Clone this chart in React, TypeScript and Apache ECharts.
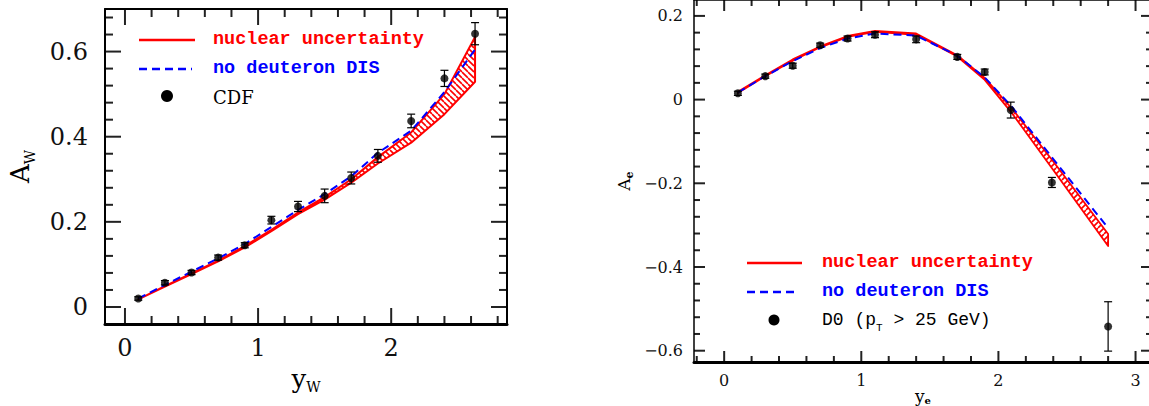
import React, { useEffect, useRef } from 'react';
import * as echarts from 'echarts';

// ---------- Left panel: CDF W charge asymmetry ----------
const cdfY = [0.1, 0.3, 0.5, 0.7, 0.9, 1.1, 1.3, 1.5, 1.7, 1.9, 2.15, 2.4, 2.63];
const cdfA = [0.02, 0.057, 0.081, 0.116, 0.145, 0.204, 0.236, 0.261, 0.303, 0.355, 0.437, 0.537, 0.642];
const cdfErr = [0.004, 0.005, 0.005, 0.006, 0.006, 0.009, 0.012, 0.016, 0.014, 0.015, 0.016, 0.019, 0.026];

const thWx = [0.1, 0.3, 0.5, 0.7, 0.9, 1.1, 1.3, 1.5, 1.7, 1.9, 2.15, 2.4, 2.63];
const nucWlo = [0.018, 0.048, 0.077, 0.107, 0.14, 0.178, 0.218, 0.252, 0.292, 0.337, 0.386, 0.453, 0.529];
const nucWhi = [0.018, 0.049, 0.079, 0.109, 0.143, 0.181, 0.222, 0.258, 0.3, 0.352, 0.41, 0.5, 0.634];
const noDeutW = [0.02, 0.052, 0.083, 0.114, 0.148, 0.188, 0.228, 0.265, 0.307, 0.362, 0.414, 0.505, 0.605];

// ---------- Right panel: D0 electron asymmetry ----------
const d0Y = [0.1, 0.3, 0.5, 0.7, 0.9, 1.1, 1.4, 1.7, 1.9, 2.09, 2.39, 2.8];
const d0A = [0.015, 0.056, 0.081, 0.13, 0.146, 0.155, 0.144, 0.102, 0.066, -0.025, -0.198, -0.542];
const d0Err = [0.005, 0.005, 0.006, 0.005, 0.006, 0.007, 0.008, 0.006, 0.007, 0.019, 0.012, 0.059];

const thEx = [0.1, 0.3, 0.5, 0.7, 0.9, 1.1, 1.4, 1.7, 1.9, 2.1, 2.4, 2.8];
const nucElo = [0.016, 0.056, 0.093, 0.125, 0.15, 0.162, 0.155, 0.103, 0.047, -0.033, -0.168, -0.35];
const nucEhi = [0.019, 0.058, 0.096, 0.127, 0.152, 0.164, 0.158, 0.106, 0.052, -0.022, -0.148, -0.321];
const noDeutE = [0.017, 0.056, 0.092, 0.123, 0.146, 0.158, 0.153, 0.105, 0.053, -0.018, -0.142, -0.307];

// axis tick values / labels
const leftXMajor = [0, 1, 2];
const leftXMinor = [0.2, 0.4, 0.6, 0.8, 1.2, 1.4, 1.6, 1.8, 2.2, 2.4, 2.6, 2.8];
const leftYMajor = [0, 0.2, 0.4, 0.6];
const leftYMinor = [0.04, 0.08, 0.12, 0.16, 0.24, 0.28, 0.32, 0.36, 0.44, 0.48, 0.52, 0.56, 0.64, 0.68];
const rightXMajor = [0, 1, 2, 3];
const rightXMinor = [-0.2, 0.2, 0.4, 0.6, 0.8, 1.2, 1.4, 1.6, 1.8, 2.2, 2.4, 2.6, 2.8];
const rightYMajor = [-0.6, -0.4, -0.2, 0, 0.2];
const rightYMinor = [-0.56, -0.52, -0.48, -0.44, -0.36, -0.32, -0.28, -0.24, -0.16, -0.12, -0.08, -0.04, 0.04, 0.08, 0.12, 0.16];

const RED = '#ff0000';
const BLUE = '#0000ff';
const TICK = '#222222';
const NUM_FONT = 'DejaVu Serif';
const LEG_FONT = 'Liberation Mono';

function hatch(dir: 'back' | 'fwd', size: number, color: string, lw: number) {
  const c = document.createElement('canvas');
  c.width = size;
  c.height = size;
  const ctx = c.getContext('2d')!;
  ctx.strokeStyle = color;
  ctx.lineWidth = lw;
  ctx.beginPath();
  for (let k = -1; k <= 1; k++) {
    if (dir === 'back') {
      ctx.moveTo(k * size, 0);
      ctx.lineTo(k * size + size, size);
    } else {
      ctx.moveTo(k * size, size);
      ctx.lineTo(k * size + size, 0);
    }
  }
  ctx.stroke();
  return { image: c.toDataURL(), repeat: 'repeat', imageWidth: size, imageHeight: size };
}

function fmtNum(v: number) {
  if (Math.abs(v) < 1e-9) return '0';
  const a = Math.abs(v);
  const s = Math.abs(a - Math.round(a)) < 1e-9 ? String(Math.round(a)) : a.toFixed(1);
  return (v < 0 ? '\u2212' : '') + s;
}

function bandSeries(xs: number[], lo: number[], hi: number[], xi: number, yi: number, pattern: any, lw: number) {
  return {
    type: 'custom',
    xAxisIndex: xi,
    yAxisIndex: yi,
    clip: true,
    silent: true,
    z: 2,
    data: xs.map((x, i) => [x, lo[i], hi[i]]),
    encode: { x: 0, y: [1, 2] },
    renderItem: (params: any, api: any) => {
      if (params.dataIndex !== 0) return null;
      const pts: number[][] = [];
      for (let i = 0; i < xs.length; i++) pts.push(api.coord([xs[i], hi[i]]));
      for (let i = xs.length - 1; i >= 0; i--) pts.push(api.coord([xs[i], lo[i]]));
      return {
        type: 'polygon',
        shape: { points: pts },
        style: { fill: pattern, stroke: RED, lineWidth: lw, lineJoin: 'round' },
      };
    },
  };
}

function errSeries(xs: number[], ys: number[], es: number[], xi: number, yi: number, cap: number) {
  return {
    type: 'custom',
    xAxisIndex: xi,
    yAxisIndex: yi,
    silent: true,
    z: 4,
    data: xs.map((x, i) => [x, ys[i], es[i]]),
    encode: { x: 0, y: 1 },
    renderItem: (params: any, api: any) => {
      const x = api.value(0);
      const y = api.value(1);
      const e = api.value(2);
      const t = api.coord([x, y + e]);
      const b = api.coord([x, y - e]);
      const st = { stroke: '#000', lineWidth: 1.2 };
      return {
        type: 'group',
        children: [
          { type: 'line', shape: { x1: t[0], y1: t[1], x2: b[0], y2: b[1] }, style: st },
          { type: 'line', shape: { x1: t[0] - cap, y1: t[1], x2: t[0] + cap, y2: t[1] }, style: st },
          { type: 'line', shape: { x1: b[0] - cap, y1: b[1], x2: b[0] + cap, y2: b[1] }, style: st },
        ],
      };
    },
  };
}

// frame ticks on all four sides: one data item per tick (value placed mid-frame on the other axis)
function tickSeries(
  xi: number,
  yi: number,
  xr: { min: number; max: number },
  yr: { min: number; max: number },
  xMaj: number[],
  xMin: number[],
  yMaj: number[],
  yMin: number[],
  majLen: number,
  minLen: number
) {
  const xm = (xr.min + xr.max) / 2;
  const ym = (yr.min + yr.max) / 2;
  const items: number[][] = [];
  xMaj.forEach((v) => items.push([v, ym, 0, majLen]));
  xMin.forEach((v) => items.push([v, ym, 0, minLen]));
  yMaj.forEach((v) => items.push([xm, v, 1, majLen]));
  yMin.forEach((v) => items.push([xm, v, 1, minLen]));
  return {
    type: 'custom',
    xAxisIndex: xi,
    yAxisIndex: yi,
    clip: false,
    silent: true,
    z: 6,
    data: items,
    encode: { x: 0, y: 1 },
    renderItem: (params: any, api: any) => {
      const v0 = api.value(0);
      const v1 = api.value(1);
      const isY = api.value(2);
      const len = api.value(3);
      const st = { stroke: TICK, lineWidth: 2 };
      if (!isY) {
        const b = api.coord([v0, yr.min]);
        const t = api.coord([v0, yr.max]);
        return {
          type: 'group',
          children: [
            { type: 'line', shape: { x1: b[0], y1: b[1], x2: b[0], y2: b[1] - len }, style: st },
            { type: 'line', shape: { x1: t[0], y1: t[1], x2: t[0], y2: t[1] + len }, style: st },
          ],
        };
      }
      const l = api.coord([xr.min, v1]);
      const r = api.coord([xr.max, v1]);
      return {
        type: 'group',
        children: [
          { type: 'line', shape: { x1: l[0], y1: l[1], x2: l[0] + len, y2: l[1] }, style: st },
          { type: 'line', shape: { x1: r[0], y1: r[1], x2: r[0] - len, y2: r[1] }, style: st },
        ],
      };
    },
  };
}

function lineSeries(xs: number[], ys: number[], xi: number, yi: number, color: string, type: any, width: number) {
  return {
    type: 'line',
    xAxisIndex: xi,
    yAxisIndex: yi,
    data: xs.map((x, i) => [x, ys[i]]),
    showSymbol: false,
    symbol: 'none',
    silent: true,
    z: 3,
    lineStyle: { color, type, width },
  };
}

function dotSeries(xs: number[], ys: number[], xi: number, yi: number, size: number) {
  return {
    type: 'scatter',
    xAxisIndex: xi,
    yAxisIndex: yi,
    data: xs.map((x, i) => [x, ys[i]]),
    symbol: 'circle',
    symbolSize: size,
    silent: true,
    z: 5,
    itemStyle: { color: '#000' },
  };
}

function axisDef(o: {
  gridIndex: number;
  position: string;
  min: number;
  max: number;
  lineWidth: number;
  labels?: number[];
  labelSize?: number;
  labelMargin?: number;
}) {
  return {
    type: 'value',
    gridIndex: o.gridIndex,
    position: o.position,
    min: o.min,
    max: o.max,
    z: 10,
    nameMoveOverlap: false,
    splitLine: { show: false },
    minorTick: { show: false },
    axisTick: { show: false },
    axisLine: { show: true, onZero: false, lineStyle: { color: '#000', width: o.lineWidth } },
    axisLabel: o.labels
      ? {
          show: true,
          margin: o.labelMargin,
          customValues: o.labels,
          formatter: (v: number) => fmtNum(v),
          fontFamily: NUM_FONT,
          fontSize: o.labelSize,
          color: '#111',
        }
      : { show: false },
  };
}

export default function App() {
  const ref = useRef<HTMLDivElement>(null);

  useEffect(() => {
    if (!ref.current) return;
    const chart = echarts.init(ref.current, undefined, { renderer: 'svg' });
    const patL = hatch('back', 6, RED, 1.6);
    const patR = hatch('fwd', 6, RED, 1.6);

    const nameRich = (big: number, small: number, lh: number, subBold: boolean) => ({
      fontFamily: NUM_FONT,
      color: '#000',
      rich: {
        b: { fontFamily: NUM_FONT, fontSize: big, lineHeight: lh, color: '#000' },
        s: {
          fontFamily: NUM_FONT,
          fontSize: small,
          lineHeight: small,
          fontWeight: subBold ? 'bold' : 'normal',
          verticalAlign: 'bottom',
          color: '#000',
        },
      },
    });

    const LX = { min: -0.15, max: 2.87 };
    const LY = { min: -0.04, max: 0.7 };
    const RX = { min: -0.22, max: 3.12 };
    const RY = { min: -0.627, max: 0.238 };

    const option: any = {
      animation: false,
      backgroundColor: '#fff',
      grid: [
        { left: 105, top: 9, width: 402, height: 315, outerBoundsMode: 'none', containLabel: false },
        { left: 694, top: 0, width: 458, height: 362, outerBoundsMode: 'none', containLabel: false },
      ],
      xAxis: [
        {
          ...axisDef({ gridIndex: 0, position: 'bottom', ...LX, lineWidth: 3, labels: leftXMajor, labelSize: 24, labelMargin: 12 }),
          name: '{b|y}{s|W}',
          nameLocation: 'middle',
          nameGap: 40,
          nameTextStyle: nameRich(26, 14, 30, false),
        },
        axisDef({ gridIndex: 0, position: 'top', ...LX, lineWidth: 2 }),
        {
          ...axisDef({ gridIndex: 1, position: 'bottom', ...RX, lineWidth: 3, labels: rightXMajor, labelSize: 16, labelMargin: 10 }),
          name: '{b|y}{s|e}',
          nameLocation: 'middle',
          nameGap: 25,
          nameTextStyle: nameRich(17, 10, 18, true),
        },
        axisDef({ gridIndex: 1, position: 'top', ...RX, lineWidth: 1.5 }),
      ],
      yAxis: [
        {
          ...axisDef({ gridIndex: 0, position: 'left', ...LY, lineWidth: 2, labels: leftYMajor, labelSize: 24, labelMargin: 17 }),
          name: '{b|A}{s|W}',
          nameLocation: 'middle',
          nameGap: 68,
          nameTextStyle: nameRich(26, 14, 34, false),
        },
        axisDef({ gridIndex: 0, position: 'right', ...LY, lineWidth: 2 }),
        {
          ...axisDef({ gridIndex: 1, position: 'left', ...RY, lineWidth: 1.5, labels: rightYMajor, labelSize: 16, labelMargin: 11 }),
          name: '{b|A}{s|e}',
          nameLocation: 'middle',
          nameGap: 59,
          nameTextStyle: nameRich(17, 11, 22, true),
        },
        axisDef({ gridIndex: 1, position: 'right', ...RY, lineWidth: 1.5 }),
      ],
      series: [
        tickSeries(0, 0, LX, LY, leftXMajor, leftXMinor, leftYMajor, leftYMinor, 16, 8),
        bandSeries(thWx, nucWlo, nucWhi, 0, 0, patL, 2),
        lineSeries(thWx, noDeutW, 0, 0, BLUE, [8, 5], 2),
        errSeries(cdfY, cdfA, cdfErr, 0, 0, 4),
        dotSeries(cdfY, cdfA, 0, 0, 8),

        tickSeries(2, 2, RX, RY, rightXMajor, rightXMinor, rightYMajor, rightYMinor, 11, 6),
        bandSeries(thEx, nucElo, nucEhi, 2, 2, patR, 1.8),
        lineSeries(thEx, noDeutE, 2, 2, BLUE, [8, 5], 2),
        errSeries(d0Y, d0A, d0Err, 2, 2, 4),
        dotSeries(d0Y, d0A, 2, 2, 8),
      ],
      graphic: [
        // left legend
        { type: 'line', shape: { x1: 139, y1: 40, x2: 195, y2: 40 }, style: { stroke: RED, lineWidth: 2.5 } },
        { type: 'text', x: 213, y: 39, style: { text: 'nuclear uncertainty', font: `bold 18.5px "${LEG_FONT}"`, fill: RED, verticalAlign: 'middle' } },
        { type: 'line', shape: { x1: 139, y1: 69, x2: 192, y2: 69 }, style: { stroke: BLUE, lineWidth: 2.5, lineDash: [8, 5] } },
        { type: 'text', x: 213, y: 68, style: { text: 'no deuteron DIS', font: `bold 18.5px "${LEG_FONT}"`, fill: BLUE, verticalAlign: 'middle' } },
        { type: 'circle', shape: { cx: 167, cy: 96, r: 6 }, style: { fill: '#000' } },
        { type: 'text', x: 213, y: 97, style: { text: 'CDF', font: `18px "${NUM_FONT}"`, fill: '#000', verticalAlign: 'middle' } },
        // right legend
        { type: 'line', shape: { x1: 747, y1: 263, x2: 802, y2: 263 }, style: { stroke: RED, lineWidth: 2.5 } },
        { type: 'text', x: 822, y: 262, style: { text: 'nuclear uncertainty', font: `bold 18.5px "${LEG_FONT}"`, fill: RED, verticalAlign: 'middle' } },
        { type: 'line', shape: { x1: 747, y1: 292, x2: 797, y2: 292 }, style: { stroke: BLUE, lineWidth: 2.5, lineDash: [8, 5] } },
        { type: 'text', x: 822, y: 291, style: { text: 'no deuteron DIS', font: `bold 18.5px "${LEG_FONT}"`, fill: BLUE, verticalAlign: 'middle' } },
        { type: 'circle', shape: { cx: 774, cy: 320, r: 5.5 }, style: { fill: '#000' } },
        {
          type: 'text',
          x: 822,
          y: 320,
          style: {
            text: '{t|D0 (p}{s|T}{t| > 25 GeV)}',
            verticalAlign: 'middle',
            rich: {
              t: { fontFamily: LEG_FONT, fontSize: 18, lineHeight: 26, color: '#000' },
              s: { fontFamily: LEG_FONT, fontSize: 11, lineHeight: 11, verticalAlign: 'bottom', color: '#000' },
            },
          },
        },
      ],
    };

    chart.setOption(option);
    return () => chart.dispose();
  }, []);

  return (
    <div
      ref={ref}
      style={{ position: 'fixed', left: 0, top: 0, width: 1149, height: 406, background: '#fff' }}
    />
  );
}
